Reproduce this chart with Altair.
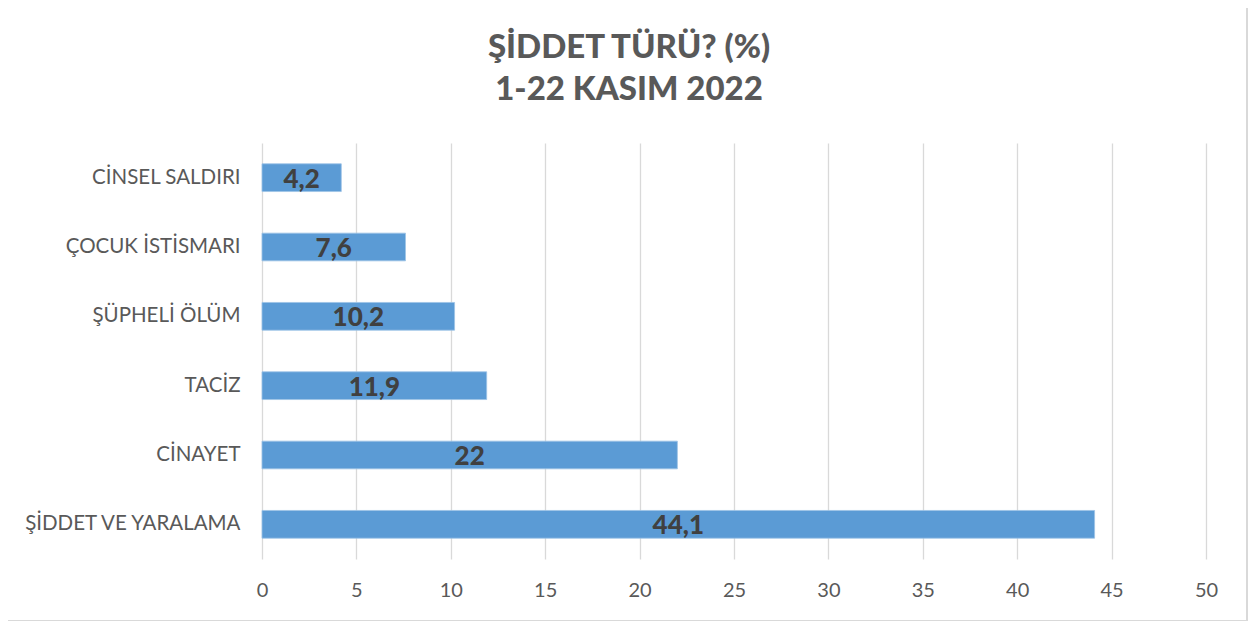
import altair as alt
import pandas as pd

categories = ["CİNSEL SALDIRI", "ÇOCUK İSTİSMARI", "ŞÜPHELİ ÖLÜM", "TACİZ", "CİNAYET", "ŞİDDET VE YARALAMA"]
values = [4.2, 7.6, 10.2, 11.9, 22, 44.1]
x_ticks = [0, 5, 10, 15, 20, 25, 30, 35, 40, 45, 50]
title_lines = ["ŞİDDET TÜRÜ? (%)", "1-22 KASIM 2022"]

df = pd.DataFrame({
    "cat": categories,
    "val": values,
    "label": [("%g" % v).replace(".", ",") for v in values],
})

FONT = "Lato"

y_enc = alt.Y("cat:N", sort=categories, title=None,
              scale=alt.Scale(paddingInner=0.6, paddingOuter=0.3),
              axis=alt.Axis(domain=False, ticks=False, labelPadding=22,
                            labelFont=FONT, labelFontSize=20.5, labelColor="#595959",
                            labelLimit=400))

x_enc = alt.X("val:Q", title=None,
              scale=alt.Scale(domain=[0, 50], nice=False),
              axis=alt.Axis(values=x_ticks, domain=False, ticks=False, labelPadding=21,
                            labelFlush=False,
                            grid=True, gridColor="#D9D9D9", gridWidth=1.3,
                            labelFont=FONT, labelFontSize=20, labelColor="#595959"))

bars = alt.Chart(df).mark_bar(color="#5B9BD5", stroke="#9DC3E6", strokeWidth=0.8).encode(
    x=x_enc, y=y_enc
)

labels = alt.Chart(df).mark_text(
    font=FONT, fontSize=26, fontWeight=900, color="#404040", baseline="middle", align="center", dy=2
).encode(
    x=alt.X("mid:Q"), y=alt.Y("cat:N", sort=categories), text="label:N"
).transform_calculate(mid="datum.val / 2")

border_left = alt.Chart(df).mark_rule(color="#D9D9D9", strokeWidth=1.3, clip=False).encode(
    x=alt.value(-257), y=alt.value(-135), y2=alt.value(478))
border_right = alt.Chart(df).mark_rule(color="#D9D9D9", strokeWidth=1.3, clip=False).encode(
    x=alt.value(985), y=alt.value(-135), y2=alt.value(478))
border_bottom = alt.Chart(df).mark_rule(color="#D9D9D9", strokeWidth=1.3, clip=False).encode(
    x=alt.value(-257), x2=alt.value(985), y=alt.value(478))

chart = alt.layer(bars, labels, border_left, border_right, border_bottom).properties(
    width=944,
    height=416,
    autosize=alt.AutoSizeParams(type="none"),
    padding={"left": 254, "top": 135, "right": 44, "bottom": 62},
    title=alt.TitleParams(title_lines, font=FONT, fontSize=33, fontWeight=900,
                          color="#595959", anchor="middle", frame="group",
                          dx=-105, offset=0, dy=100, lineHeight=42),
).configure_view(stroke=None)

chart.save("out.html", embed_options={"renderer": "svg", "actions": False})
